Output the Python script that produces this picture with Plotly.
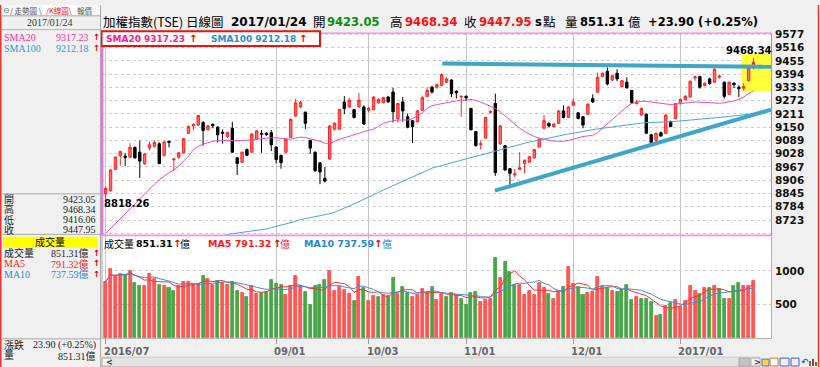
import plotly.graph_objects as go
import pandas as pd

W, H = 820, 367

# ---------------- data ----------------
tick_index = [0, 35, 54, 74, 96, 118]
tick_labels = ["2016/07", "09/01", "10/03", "11/01", "12/01", "2017/01"]
price_ticks = [8662, 8723, 8784, 8845, 8906, 8967, 9028, 9089, 9150, 9211,
               9272, 9333, 9394, 9455, 9516, 9577]
volume_ticks = [500, 1000]

opens = [8843, 8858, 8956, 9020, 9017, 9012, 9057, 9035, 8982, 9054,
         9062, 9074, 9021, 9085, 9000, 9012, 9032, 9122, 9157, 9160,
         9172, 9138, 9163, 9150, 9127, 9107, 9145, 9009, 8989, 9047,
         9035, 9095, 9122, 9122, 9125, 9059, 9020, 9035, 9104, 9201,
         9243, 9219, 9089, 9035, 8986, 8915, 9004, 9141, 9141, 9266,
         9243, 9231, 9243, 9243, 9228, 9231, 9262, 9263, 9289, 9312,
         9190, 9266, 9198, 9180, 9175, 9228, 9292, 9334, 9334, 9342,
         9357, 9367, 9315, 9290, 9292, 9236, 9130, 9070, 9100, 9218,
         9259, 9074, 9065, 8959, 8930, 8956, 8983, 8989, 9009, 9059,
         9145, 9168, 9153, 9168, 9225, 9195, 9251, 9216, 9198, 9210,
         9281, 9311, 9383, 9407, 9367, 9398, 9337, 9357, 9319, 9259,
         9206, 9210, 9115, 9089, 9125, 9122, 9175, 9190, 9259, 9277,
         9289, 9377, 9383, 9342, 9372, 9357, 9380, 9357, 9301, 9352,
         9334, 9330, 9364, 9423.05]
highs = [8877, 8956, 9017, 9042, 9032, 9077, 9062, 9089, 9032, 9085,
         9089, 9080, 9085, 9088, 9008, 9035, 9100, 9158, 9168, 9206,
         9178, 9160, 9168, 9155, 9140, 9130, 9175, 9012, 9038, 9052,
         9122, 9137, 9137, 9127, 9137, 9062, 9025, 9098, 9190, 9281,
         9271, 9222, 9092, 9038, 8990, 8967, 9160, 9172, 9234, 9293,
         9285, 9235, 9307, 9250, 9243, 9292, 9283, 9290, 9292, 9331,
         9262, 9289, 9213, 9183, 9228, 9296, 9334, 9340, 9350, 9397,
         9380, 9370, 9320, 9295, 9296, 9240, 9133, 9089, 9198, 9228,
         9304, 9160, 9068, 8962, 8956, 9035, 9001, 9017, 9050, 9098,
         9206, 9172, 9168, 9228, 9251, 9246, 9281, 9219, 9201, 9259,
         9301, 9402, 9402, 9425, 9392, 9417, 9367, 9380, 9322, 9274,
         9240, 9213, 9118, 9125, 9130, 9210, 9180, 9262, 9281, 9298,
         9365, 9387, 9387, 9356, 9377, 9420, 9392, 9360, 9360, 9357,
         9342, 9352, 9428, 9468.34]
lows = [8818.26, 8853, 8953, 8974, 8971, 9008, 9004, 8917, 8977, 9044,
        9056, 8980, 9015, 9057, 8950, 9005, 9030, 9118, 9135, 9158,
        9065, 9135, 9145, 9080, 9074, 9100, 9032, 8930, 8985, 9018,
        9032, 9092, 9032, 9110, 9040, 8983, 8959, 9030, 9100, 9198,
        9238, 9142, 9027, 8945, 8888, 8896, 9000, 9135, 9138, 9210,
        9240, 9190, 9240, 9160, 9218, 9228, 9258, 9260, 9262, 9172,
        9172, 9175, 9145, 9077, 9172, 9225, 9288, 9305, 9328, 9338,
        9352, 9289, 9282, 9198, 9270, 9135, 9060, 9047, 9097, 9212,
        8926, 9068, 8950, 8884, 8920, 8955, 8938, 8986, 9005, 9055,
        9142, 9150, 9150, 9165, 9190, 9192, 9248, 9186, 9145, 9207,
        9262, 9308, 9380, 9342, 9362, 9361, 9333, 9328, 9258, 9255,
        9203, 9119, 9077, 9086, 9105, 9119, 9150, 9186, 9255, 9274,
        9286, 9364, 9327, 9338, 9345, 9354, 9372, 9281, 9298, 9330,
        9289, 9319, 9360, 9416.06]
closes = [8868, 8953, 9012, 9038, 9011, 9057, 9009, 8994, 9027, 9069,
          9080, 8983, 9082, 9080, 9004, 9032, 9097, 9153, 9162, 9204,
          9135, 9156, 9158, 9115, 9122, 9125, 9035, 8983, 9035, 9021,
          9119, 9133, 9118, 9116, 9069, 9001, 8986, 9095, 9186, 9262,
          9265, 9168, 9054, 8950, 8944, 8902, 9156, 9168, 9231, 9236,
          9274, 9195, 9274, 9165, 9236, 9289, 9277, 9286, 9266, 9221,
          9259, 9225, 9150, 9153, 9225, 9286, 9319, 9312, 9346, 9392,
          9372, 9304, 9308, 9292, 9285, 9138, 9065, 9074, 9195, 9222,
          8941, 9156, 8953, 8938, 8935, 8963, 8998, 9014, 9047, 9095,
          9180, 9156, 9165, 9225, 9195, 9243, 9266, 9190, 9160, 9256,
          9266, 9380, 9398, 9349, 9387, 9372, 9364, 9331, 9262, 9266,
          9236, 9122, 9080, 9122, 9110, 9206, 9153, 9259, 9277, 9292,
          9361, 9382, 9334, 9352, 9350, 9417, 9385, 9292, 9357, 9346,
          9327, 9336, 9424.05, 9447.95]
volumes = [843, 1029, 931, 960, 941, 1000, 819, 779, 770, 960,
           882, 794, 784, 745, 706, 779, 843, 833, 794, 804,
           931, 882, 794, 853, 819, 794, 833, 706, 672, 618,
           784, 657, 672, 686, 868, 804, 794, 647, 775, 931,
           784, 686, 500, 784, 794, 863, 1000, 706, 755, 721,
           657, 559, 907, 745, 559, 623, 608, 637, 623, 892,
           657, 755, 672, 608, 637, 735, 667, 755, 574, 657,
           608, 672, 637, 588, 500, 677, 686, 534, 574, 579,
           1196, 892, 1137, 980, 794, 794, 637, 696, 637, 814,
           745, 657, 588, 706, 755, 1063, 804, 755, 637, 672,
           686, 912, 770, 745, 706, 686, 721, 794, 574, 608,
           588, 588, 539, 328, 338, 480, 529, 574, 470, 559,
           775, 706, 657, 745, 745, 775, 735, 588, 588, 775,
           814, 779, 784, 851.31]
sma20 = [8661, 8684, 8706, 8729, 8752, 8775, 8797, 8820, 8843, 8865,
         8888, 8908, 8926, 8941, 8953, 8971, 8994, 9017, 9047, 9062,
         9072, 9080, 9085, 9088, 9089, 9089, 9089, 9089, 9088, 9089,
         9092, 9095, 9098, 9100, 9101, 9101, 9098, 9095, 9095, 9101,
         9104, 9103, 9098, 9092, 9085, 9077, 9072, 9085, 9095, 9101,
         9107, 9115, 9122, 9130, 9135, 9141, 9153, 9168, 9175, 9180,
         9183, 9183, 9183, 9189, 9201, 9216, 9236, 9248, 9254, 9259,
         9262, 9266, 9271, 9274, 9277, 9277, 9274, 9266, 9256, 9246,
         9236, 9221, 9201, 9183, 9165, 9145, 9130, 9118, 9107, 9100,
         9095, 9089, 9086, 9085, 9085, 9089, 9095, 9103, 9107, 9110,
         9113, 9125, 9145, 9168, 9186, 9206, 9225, 9243, 9259, 9265,
         9269, 9269, 9266, 9262, 9259, 9256, 9254, 9256, 9259, 9262,
         9265, 9266, 9265, 9263, 9262, 9260, 9260, 9262, 9265, 9271,
         9278, 9289, 9304, 9317.23]
sma100 = [None] * 24 + [
    8650, 8657, 8660, 8663, 8666, 8669, 8672, 8675, 8678, 8682,
    8688, 8694, 8699, 8703, 8710, 8717, 8725, 8729, 8734, 8737,
    8741, 8747, 8752, 8759, 8767, 8778, 8787, 8797, 8808, 8818,
    8829, 8840, 8850, 8861, 8871, 8880, 8890, 8899, 8909, 8918,
    8929, 8939, 8951, 8962, 8968, 8974, 8980, 8986, 8992, 8998,
    9004, 9011, 9017, 9023, 9030, 9036, 9042, 9048, 9053, 9059,
    9065, 9069, 9076, 9082, 9086, 9091, 9095, 9100, 9106, 9110,
    9115, 9119, 9122, 9127, 9131, 9135, 9139, 9142, 9145, 9150,
    9153, 9156, 9160, 9163, 9165, 9168, 9169, 9171, 9171, 9172,
    9174, 9174, 9175, 9177, 9178, 9180, 9181, 9183, 9184, 9187,
    9189, 9192, 9194, 9197, 9200, 9201, 9204, 9207, 9209, 9212.18]

# user-drawn study objects (index, price)
resist_line = [(69.1, 9443), (136.6, 9428)]
support_line = [(79.9, 8858), (136.6, 9231)]
highlight_box = [(130.55, 9315), (136.6, 9490)]

# ---------------- helpers ----------------
def px(x):
    return x / W

def py(y):
    return 1 - y / H

CJK = "Noto Sans CJK TC"
NUM = "DejaVu Sans"
SER = "Liberation Serif"
SER_CJK = "Liberation Serif, Noto Sans CJK TC"

annotations = []
shapes = []

def txt(x, y, text, size=11, family=CJK, color="#000000", bold=False, anchor="left"):
    annotations.append(dict(
        xref="paper", yref="paper", x=px(x), y=py(y), text=text, showarrow=False,
        xanchor=anchor, yanchor="middle", borderpad=0,
        font=dict(family=family, size=size, color=color, weight="bold" if bold else "normal")))

def rect(x0, y0, x1, y1, fill=None, line=None, lw=1, layer="above"):
    shapes.append(dict(type="rect", xref="paper", yref="paper",
                       x0=px(x0), x1=px(x1), y0=py(y0), y1=py(y1),
                       fillcolor=fill if fill else "rgba(0,0,0,0)",
                       line=dict(color=line if line else "rgba(0,0,0,0)", width=lw if line else 0),
                       layer=layer))

def hline(x0, x1, y, color, lw=1):
    shapes.append(dict(type="line", xref="paper", yref="paper", x0=px(x0), x1=px(x1),
                       y0=py(y), y1=py(y), line=dict(color=color, width=lw)))

def vline(x, y0, y1, color, lw=1):
    shapes.append(dict(type="line", xref="paper", yref="paper", x0=px(x), x1=px(x),
                       y0=py(y0), y1=py(y1), line=dict(color=color, width=lw)))

n = len(closes)
idx = list(range(n))

# volume colours by change vs previous close
vol_fill, vol_line = [], []
for i in range(n):
    up = i == 0 or closes[i] >= closes[i - 1]
    vol_fill.append("#ff5a5a" if up else "#46a846")
    vol_line.append("#ff2a2a" if up else "#2f8f2f")

vol_s = pd.Series(volumes)
vol_ma5 = vol_s.rolling(5, min_periods=1).mean()
vol_ma10 = vol_s.rolling(10, min_periods=1).mean()

fig = go.Figure()

fig.add_trace(go.Candlestick(
    x=idx, open=opens, high=highs, low=lows, close=closes,
    increasing=dict(line=dict(color="#ff2020", width=1), fillcolor="#ff6e6e"),
    decreasing=dict(line=dict(color="#000000", width=1), fillcolor="#000000"),
    whiskerwidth=0, hoverinfo="skip", xaxis="x", yaxis="y"))
fig.add_trace(go.Scatter(x=idx, y=sma20, mode="lines", line=dict(color="#f04cb8", width=1),
                         hoverinfo="skip", xaxis="x", yaxis="y"))
fig.add_trace(go.Scatter(x=idx, y=sma100, mode="lines", line=dict(color="#46a6e0", width=1),
                         hoverinfo="skip", xaxis="x", yaxis="y"))

fig.add_trace(go.Bar(x=idx, y=volumes, width=0.62,
                     marker=dict(color=vol_fill, line=dict(color=vol_line, width=0.6)),
                     hoverinfo="skip", xaxis="x2", yaxis="y2"))
fig.add_trace(go.Scatter(x=idx, y=vol_ma5, mode="lines", line=dict(color="#ff3030", width=1),
                         hoverinfo="skip", xaxis="x2", yaxis="y2"))
fig.add_trace(go.Scatter(x=idx, y=vol_ma10, mode="lines", line=dict(color="#3b8fdc", width=1),
                         hoverinfo="skip", xaxis="x2", yaxis="y2"))

# study objects
shapes.append(dict(type="rect", xref="x", yref="y",
                   x0=highlight_box[0][0], x1=highlight_box[1][0],
                   y0=highlight_box[0][1], y1=highlight_box[1][1],
                   fillcolor="#ffff3c", line=dict(width=0), layer="between"))
for ln in (resist_line, support_line):
    shapes.append(dict(type="line", xref="x", yref="y", x0=ln[0][0], y0=ln[0][1],
                       x1=ln[1][0], y1=ln[1][1], line=dict(color="#3ea6c6", width=4)))

# price panel frame
rect(102.5, 28.5, 771.5, 233.5, line="#ff55ee", lw=1)
vline(102, 28, 234, "#ff66ee", 2.5)
hline(102, 771.5, 233.8, "#ff88ee", 1.5)
# volume panel frame
vline(102, 234.5, 338, "#b8b0a8", 1)
vline(771.5, 234.5, 338, "#b8b0a8", 1)
hline(102, 771.5, 338, "#b8b0a8", 1)

# legend box in price panel
rect(101.5, 26.5, 320, 41.5, fill="#ffffff", line="#ee1111", lw=2)
txt(105, 34.2, "SMA20 9317.23", 9, NUM, "#ff1a8c", True)
txt(188, 34, "↑", 10, NUM, "#ee0000", True)
txt(210, 34.2, "SMA100 9212.18", 9, NUM, "#1f8fd4", True)
txt(298, 34, "↑", 10, NUM, "#ee0000", True)

# value labels for extremes
annotations.append(dict(xref="x", yref="y", x=133, y=9468.34, text="9468.34", showarrow=False,
                        xanchor="right", yanchor="bottom", xshift=20, yshift=1, borderpad=0,
                        font=dict(family=NUM, size=10, color="#000000", weight="bold")))
annotations.append(dict(xref="x", yref="y", x=0, y=8818.26, text="8818.26", showarrow=False,
                        xanchor="left", yanchor="top", xshift=-3, yshift=2, borderpad=0,
                        font=dict(family=NUM, size=10, color="#000000", weight="bold")))

# volume legend row
txt(103, 242, "成交量", 10, CJK, "#000000")
txt(135, 242.2, "851.31", 9.5, NUM, "#000000", True)
txt(172, 242, "↑", 10, NUM, "#ee0000", True)
txt(179, 242, "億", 10, CJK, "#000000")
txt(207, 242.2, "MA5 791.32", 9.5, NUM, "#ff1a1a", True)
txt(272, 242, "↑", 10, NUM, "#ee0000", True)
txt(279, 242, "億", 10, CJK, "#ff1a1a")
txt(303, 242.2, "MA10 737.59", 9.5, NUM, "#1f86d4", True)
txt(373, 242, "↑", 10, NUM, "#ee0000", True)
txt(381, 242, "億", 10, CJK, "#1f86d4")

# title row
txt(102, 17, "加權指數(TSE)", 12.5, CJK)
txt(185, 17, "日線圖", 12.5, CJK)
txt(230, 17.5, "2017/01/24", 12, NUM, "#000000", True)
txt(312, 17, "開", 12.5, CJK)
txt(326, 17.5, "9423.05", 11.5, NUM, "#0a8f0a", True)
txt(389, 17, "高", 12.5, CJK)
txt(404, 17.5, "9468.34", 11.5, NUM, "#ff1010", True)
txt(463, 17, "收", 12.5, CJK)
txt(478, 17.5, "9447.95", 11.5, NUM, "#ff1010", True)
txt(534, 17.5, "s", 11.5, NUM, "#000000", True)
txt(542, 17, "點", 12.5, CJK)
txt(564, 17, "量", 12.5, CJK)
txt(579, 17.5, "851.31", 11.5, NUM, "#000000", True)
txt(627, 17, "億", 12.5, CJK)
txt(647, 17.5, "+23.90 (+0.25%)", 11.5, NUM, "#000000", True)

# date labels below volume panel
for ti, tl in zip(tick_index, tick_labels):
    annotations.append(dict(xref="x", yref="paper", x=ti, y=py(351.5), text=tl, showarrow=False,
                            xanchor="left", yanchor="middle", xshift=-3, borderpad=0,
                            font=dict(family=NUM, size=10, color="#666666", weight="bold")))

# ---------------- left info panel ----------------
vline(100.5, 0, 367, "#a8a8a8", 1)
vline(0.75, 0, 367, "#ee3333", 1.5)
vline(818.5, 0, 367, "#ee3333", 1.5)
# tabs
rect(1.5, 0, 100, 11, fill="#f6f6f6")
txt(2, 5.5, "⊖", 8, NUM, "#777777")
txt(9, 5.5, "/ 走勢圖 \\", 7.5, CJK, "#555555")
rect(43, 0, 76, 11, fill="#ffffff")
txt(45, 5.5, "/K線圖\\", 7.5, CJK, "#e02020")
txt(76, 5.5, "報價", 7.5, CJK, "#555555")
hline(1, 100, 11, "#a8a8a8")
# date box
txt(50, 17.5, "2017/01/24", 10, SER, "#333333", anchor="center")
hline(1, 100, 25, "#b0b0b0")
txt(3, 33, "SMA20", 10, SER, "#ff3399")
txt(90, 33, "9317.23", 10, SER, "#ff3399", anchor="right")
txt(92, 32.5, "↑", 8.5, NUM, "#ee0000", True)
txt(3, 44, "SMA100", 10, SER, "#2f97d0")
txt(90, 44, "9212.18", 10, SER, "#2f97d0", anchor="right")
txt(92, 43.5, "↑", 8.5, NUM, "#ee0000", True)
# OHLC
hline(1, 100, 191.5, "#a8a8a8")
for yy, lab, val in [(197, "開", "9423.05"), (207, "高", "9468.34"),
                     (217.5, "低", "9416.06"), (228, "收", "9447.95")]:
    txt(2.5, yy, lab, 10, SER_CJK, "#222222")
    txt(97, yy, val, 10, SER, "#222222", anchor="right")
hline(1, 100, 232.5, "#a8a8a8")
# volume info
rect(3, 235, 97, 246, fill="#ffff00")
txt(50, 240.5, "成交量", 10, SER_CJK, "#000000", anchor="center")
txt(3, 251.5, "成交量", 10, SER_CJK, "#222222")
txt(89.5, 251.5, "851.31億", 10, SER_CJK, "#222222", anchor="right")
txt(92, 251, "↑", 8.5, NUM, "#ee0000", True)
txt(3, 262.2, "MA5", 10, SER, "#ff2020")
txt(89.5, 262.2, "791.32億", 10, SER_CJK, "#ff2020", anchor="right")
txt(92, 261.7, "↑", 8.5, NUM, "#ee0000", True)
txt(3, 272.8, "MA10", 10, SER, "#2f86d0")
txt(89.5, 272.8, "737.59億", 10, SER_CJK, "#2f86d0", anchor="right")
txt(92, 272.3, "↑", 8.5, NUM, "#ee0000", True)
hline(1, 100, 338.5, "#a8a8a8")
txt(2.5, 345, "漲跌", 10, SER_CJK, "#222222")
txt(97, 345, "23.90 (+0.25%)", 10, SER, "#222222", anchor="right")
txt(2.5, 355.8, "量", 10, SER_CJK, "#222222")
txt(97, 355.8, "851.31億", 10, SER_CJK, "#222222", anchor="right")

# scrollbar
rect(101, 357, 760, 366.5, fill="#e4e4e4", line="#c8c8c8", lw=1)
rect(102, 358, 111, 366, fill="#f4f4f4", line="#b0b0b0", lw=1)
txt(104.5, 362, "<", 8, NUM, "#333333", True)
rect(739, 358, 750, 366, fill="#c4c4c4", line="#a8a8a8", lw=1)
rect(751, 358, 760, 366, fill="#f4f4f4", line="#b0b0b0", lw=1)
txt(753, 362, ">", 8, NUM, "#333333", True)
# toolbar icons
rect(762, 359, 769, 366, fill="#ffd24a", line="#3a7fd0", lw=1)
rect(770, 358, 778, 366, fill="#ffffff", line="#e07020", lw=1)
rect(780, 358, 789, 366, line="#3a60e0", lw=1)
rect(791, 358, 799, 366, line="#3a60e0", lw=1)
txt(800, 362, "↶", 9, NUM, "#3a60e0", True)
rect(809, 361, 811, 366, fill="#2a9a2a")
rect(812, 359, 814, 366, fill="#e02020")
rect(815, 362, 817, 366, fill="#2a9a2a")

fig.update_layout(
    width=W, height=H, margin=dict(l=0, r=0, t=0, b=0),
    paper_bgcolor="#f0f0f0", plot_bgcolor="#ffffff", showlegend=False,
    shapes=shapes, annotations=annotations, bargap=0,
    xaxis=dict(domain=[px(103), px(771)], range=[-0.55, 136.6], anchor="y",
               tickvals=tick_index, showticklabels=False, ticks="",
               showgrid=True, gridcolor="#c4c4c4", gridwidth=1, zeroline=False,
               rangeslider=dict(visible=False), showline=False, fixedrange=True),
    yaxis=dict(domain=[py(233), py(28)], range=[8655, 9585], anchor="x", side="right",
               tickvals=price_ticks, ticktext=["" if v == 8662 else str(v) for v in price_ticks],
               tickfont=dict(family=NUM, size=10.5, color="#111111", weight="bold"),
               ticks="", ticklabelstandoff=3, showgrid=True, gridcolor="#cdcdcd",
               griddash="dot", gridwidth=1, zeroline=False, showline=False, fixedrange=True),
    xaxis2=dict(domain=[px(103), px(771)], range=[-0.55, 136.6], anchor="y2", matches="x",
                tickvals=tick_index, showticklabels=False, ticks="outside", ticklen=5,
                tickcolor="#9a9a9a", showgrid=True, gridcolor="#c4c4c4", zeroline=False,
                showline=False, fixedrange=True),
    yaxis2=dict(domain=[py(337.5), py(234)], range=[0, 1522], anchor="x2", side="right",
                tickvals=volume_ticks, ticktext=[str(v) for v in volume_ticks],
                tickfont=dict(family=NUM, size=10.5, color="#111111", weight="bold"),
                ticks="", ticklabelstandoff=3, showgrid=True, gridcolor="#cdcdcd",
                griddash="dot", zeroline=False, showline=False, fixedrange=True),
)

fig.write_html(
    "out.html",
    config={"displayModeBar": False},
    post_script="document.body.style.margin='0px';document.body.style.padding='0px';"
                "document.body.style.overflow='hidden';"
                "document.documentElement.style.overflow='hidden';",
)
